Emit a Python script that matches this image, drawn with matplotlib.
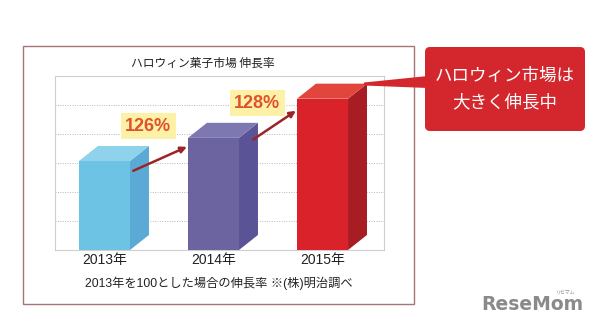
import numpy as np
import matplotlib.pyplot as plt
from matplotlib.patches import Rectangle, Polygon, FancyBboxPatch

plt.rcParams['font.family'] = ['Noto Sans CJK JP', 'DejaVu Sans']
latin = ['Liberation Sans', 'Noto Sans CJK JP']

# データ
categories = ['2013年', '2014年', '2015年']
values = [100, 126, 170]
growth_labels = ['126%', '128%']
title = 'ハロウィン菓子市場 伸長率'
note = '2013年を100とした場合の伸長率 ※(株)明治調べ'
callout = 'ハロウィン市場は\n大きく伸長中'

front_colors = ['#6cc3e4', '#6b64a1', '#d9222a']
side_colors = ['#5ba9d5', '#5a5396', '#a81d24']
top_colors = ['#8fd2ec', '#7e78b1', '#e1453c']

W, H = 598, 326
fig = plt.figure(figsize=(W / 100, H / 100), dpi=100)

# グラフ本体
ax = fig.add_axes([55 / W, (H - 250) / H, 329 / W, 174 / H])
ax.patch.set_alpha(0)
ymax = 195.5
ax.set_xlim(-0.454, 2.564)
ax.set_ylim(0, ymax)
ax.set_yticks(np.linspace(0, ymax, 7))
ax.set_yticklabels([])
ax.grid(axis='y', color='#b8b8b8', linestyle=(0, (1, 1.5)), lw=0.7)
ax.set_axisbelow(True)
for s in ax.spines.values():
    s.set_color('#cfcfcf')
    s.set_linewidth(0.8)
ax.tick_params(length=0, pad=2)

x = np.arange(len(categories))
w = 0.468
dx = 0.174
dy = 16.9
ax.bar(x, values, width=w, color=front_colors, zorder=3)
for i, v in enumerate(values):
    xr = x[i] + w / 2
    xl = x[i] - w / 2
    ax.add_patch(Polygon([(xr, 0), (xr + dx, dy), (xr + dx, v + dy), (xr, v)],
                         closed=True, fc=side_colors[i], ec='none', zorder=3))
    ax.add_patch(Polygon([(xl, v), (xr, v), (xr + dx, v + dy), (xl + dx, v + dy)],
                         closed=True, fc=top_colors[i], ec='none', zorder=3))

ax.set_xticks(x)
ax.set_xticklabels(categories, fontsize=10, color='#222222', family=latin)

# 伸長率の矢印とラベル
for i, lab in enumerate(growth_labels):
    start = (x[i] + w / 2 + 0.03 + 0.1 * i, values[i] * 0.89 + 12 * i)
    end = (x[i + 1] - w / 2 - 0.01, values[i + 1] * 0.92)
    ax.annotate('', xy=end, xytext=start,
                arrowprops=dict(arrowstyle='-|>', color='#9b2428', lw=1.8,
                                mutation_scale=9, shrinkA=0, shrinkB=0),
                zorder=5)
    ax.text(x[i] + 0.4, values[i] + 39, lab, ha='center', va='center',
            fontsize=13, fontweight='bold', color='#e0522c', zorder=6,
            family=latin,
            bbox=dict(boxstyle='square,pad=0.25', fc='#fdf1a8', ec='none'))

# 外枠・タイトル・注記・吹き出し
ov = fig.add_axes([0, 0, 1, 1])
ov.set_xlim(0, W)
ov.set_ylim(H, 0)
ov.axis('off')
ov.patch.set_alpha(0)

ov.add_patch(Rectangle((23, 46), 391, 258, fill=False, ec='#a27676', lw=1))
ov.text(203, 63, title, ha='center', va='center', fontsize=8.5, color='#222222')
ov.text(219, 283, note, ha='center', va='center', fontsize=8.8, color='#222222',
        family=latin)

red = '#d4262d'
ov.add_patch(Polygon([(364, 82.5), (364, 85.5), (428, 88), (428, 76)],
                     closed=True, fc=red, ec='none'))
ov.add_patch(FancyBboxPatch((425, 47), 160, 84,
                            boxstyle='round,pad=0,rounding_size=5',
                            fc=red, ec='none'))
ov.text(505, 89, callout, ha='center', va='center', fontsize=12.6,
        color='white', linespacing=1.6)

# ロゴ
ov.text(532, 305, 'ReseMom', ha='center', va='center', fontsize=13.5,
        fontweight='bold', color='#8a8a8a', family='DejaVu Sans')
ov.text(566, 292, 'リセマム', ha='center', va='center', fontsize=3.5,
        color='#8a8a8a')

fig.savefig('out.png', dpi=100)
